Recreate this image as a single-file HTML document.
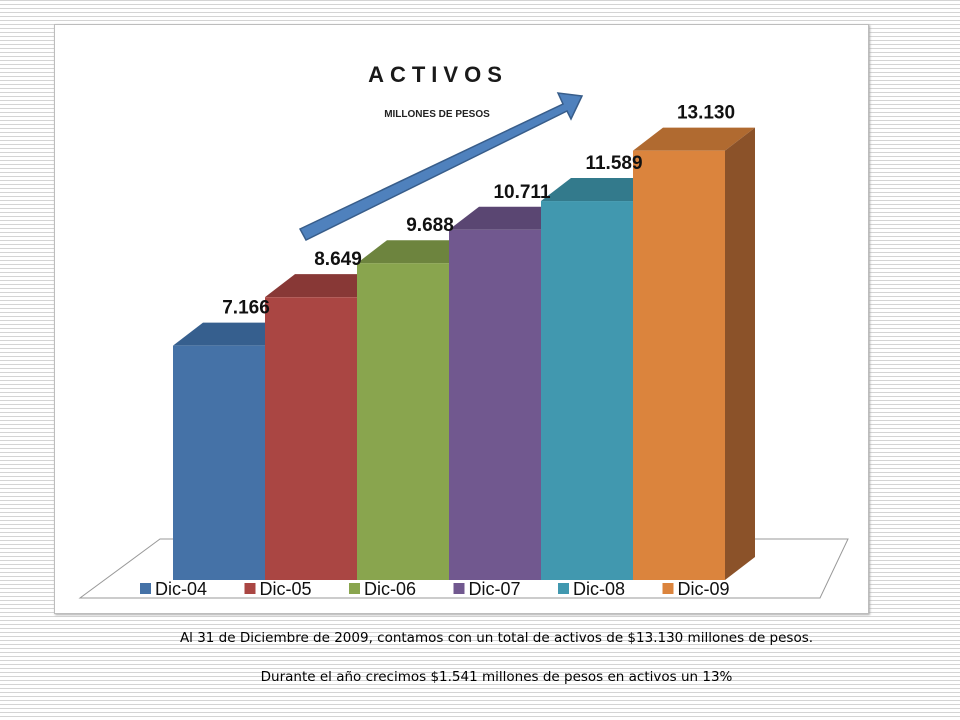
<!DOCTYPE html>
<html><head><meta charset="utf-8"><style>
html,body{margin:0;padding:0}
body{width:960px;height:720px;position:relative;overflow:hidden;
background:repeating-linear-gradient(to bottom,#d4d4d4 0px,#d4d4d4 1px,#fff 1px,#fff 4px);
font-family:"Liberation Sans",sans-serif}
#frame{position:absolute;left:54px;top:24px;width:813px;height:588px;background:#fff;border:1px solid #bdbdbd;box-shadow:1px 1px 2px #aaa}
.note{position:absolute;left:0;width:993px;text-align:center;font-family:"DejaVu Sans",sans-serif;font-size:13.5px;color:#000}
</style></head><body>
<div id="frame"></div>
<svg id="chart" width="960" height="720" style="position:absolute;left:0;top:0">
<polygon points="80,598 820,598 848,539 160,539" fill="#fff" stroke="#999" stroke-width="1"/>
<g id="bars"></g>
<polygon points="300,229 563,104 558,93 582,96 571,119 567,111 306,240" fill="#4f81bd" stroke="#385d8a" stroke-width="1.5"/>
<text x="438" y="82" text-anchor="middle" font-size="22" font-weight="bold" letter-spacing="6" fill="#1a1a1a">ACTIVOS</text>
<text x="437" y="117" text-anchor="middle" font-size="10" font-weight="bold" fill="#222">MILLONES DE PESOS</text>
<g id="legend"></g>
</svg>
<div class="note" style="top:630px">Al 31 de Diciembre de 2009, contamos con un total de activos de $13.130 millones de pesos.</div>
<div class="note" style="top:669px">Durante el año crecimos $1.541 millones de pesos en activos un 13%</div>
<script>
const categories=["Dic-04","Dic-05","Dic-06","Dic-07","Dic-08","Dic-09"];
const values=[7166,8649,9688,10711,11589,13130];
const valueLabels=["7.166","8.649","9.688","10.711","11.589","13.130"];
const NS="http://www.w3.org/2000/svg";
const front=["#4572a7","#aa4643","#89a54e","#71588f","#4198af","#db843d"];
const topc=["#365f8e","#883836","#6d843e","#5a4672","#337a8c","#b06a30"];
const side=["#2f5279","#732f2d","#5c6f34","#4b3b60","#2b6776","#8b5229"];
const baseY=580,scale=0.0327,x0=173,bw=92,dx=30,dy=23;
function xs(i){return x0+i*bw;}
function ys(v){return baseY-v*scale;}
const g=document.getElementById('bars');
function mk(tag,attrs){const e=document.createElementNS(NS,tag);for(const k in attrs)e.setAttribute(k,attrs[k]);return e;}
// draw back to front: rightmost side visible only for last; draw left to right
values.forEach((v,i)=>{
  const x=xs(i),y=ys(v);
  const t=mk('polygon',{points:`${x},${y} ${x+dx},${y-dy} ${x+bw+dx},${y-dy} ${x+bw},${y}`,fill:topc[i]});
  
  
  g.appendChild(t);
  const s=mk('polygon',{points:`${x+bw},${y} ${x+bw+dx},${y-dy} ${x+bw+dx},${baseY-dy} ${x+bw},${baseY}`,fill:side[i]});
  
  
  g.appendChild(s);
});
values.forEach((v,i)=>{
  const x=xs(i),y=ys(v);
  const r=mk('rect',{x:x,y:y,width:bw,height:baseY-y,fill:front[i]});
  
  
  g.appendChild(r);
});
values.forEach((v,i)=>{
  const x=xs(i),y=ys(v);
  const t=mk('text',{x:x+bw/2+27,y:y-32,'text-anchor':'middle','font-size':19,'font-weight':'bold',fill:'#111'});
  t.textContent=valueLabels[i];
  
  
  g.appendChild(t);
});
const lg=document.getElementById('legend');
categories.forEach((c,i)=>{
  const lx=140+i*104.5;
  const m=mk('rect',{x:lx,y:583,width:11,height:11,fill:front[i]});
  
  
  lg.appendChild(m);
  const t=mk('text',{x:lx+15,y:595,'font-size':18,fill:'#111'});
  t.textContent=c;
  
  
  lg.appendChild(t);
});
</script>
</body></html>
